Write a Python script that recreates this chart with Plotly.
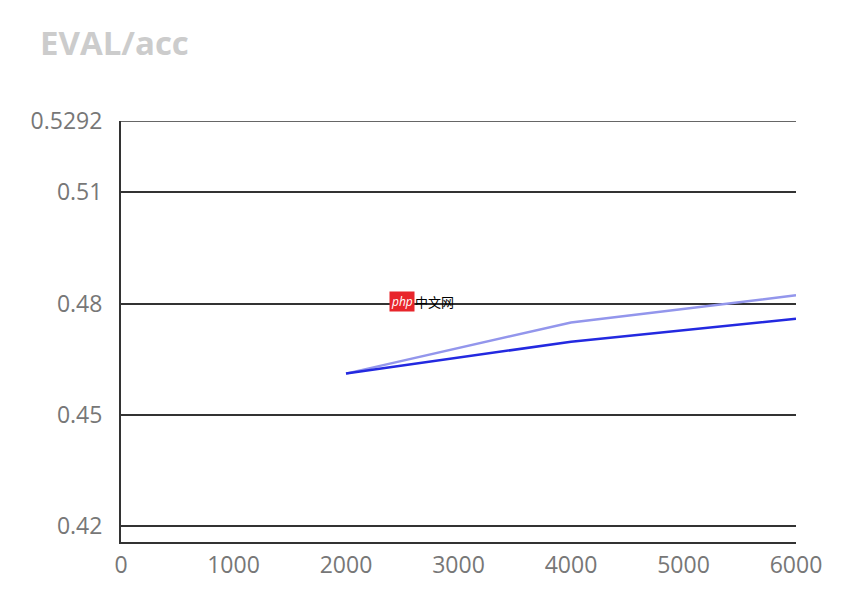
import plotly.graph_objects as go

steps = [2000, 4000, 6000]
acc_light = [0.4611, 0.4749, 0.4822]
acc_dark = [0.4611, 0.4697, 0.4759]
y_ticks = [0.42, 0.45, 0.48, 0.51, 0.5292]
y_tick_text = ["0.42", "0.45", "0.48", "0.51", "0.5292"]
x_ticks = [0, 1000, 2000, 3000, 4000, 5000, 6000]
y_min, y_max = 0.4157, 0.5292

fig = go.Figure()
fig.add_trace(go.Scatter(x=steps, y=acc_light, mode="lines",
                         line=dict(color="#9396ec", width=2.5), showlegend=False))
fig.add_trace(go.Scatter(x=steps, y=acc_dark, mode="lines",
                         line=dict(color="#2329e0", width=2.5), showlegend=False))

font_fam = "Open Sans, Segoe UI, sans-serif"
W, H = 840, 586
fig.update_layout(
    width=W, height=H,
    margin=dict(l=113, r=52, t=113, b=52),
    paper_bgcolor="white", plot_bgcolor="white",
    title=dict(text="<b>EVAL/acc</b>", x=32/W, xanchor="left", y=1-35/H, yanchor="middle",
               font=dict(family=font_fam, size=33, color="#cccccc")),
    xaxis=dict(range=[0, 6000], tickvals=x_ticks, showgrid=False, zeroline=False,
               showline=True, linecolor="#333333", linewidth=2, automargin=False,
               ticks="outside", ticklen=1, tickcolor="rgba(0,0,0,0)",
               tickfont=dict(family=font_fam, size=23, color="#777777")),
    yaxis=dict(range=[y_min, y_max], tickvals=y_ticks, ticktext=y_tick_text,
               showgrid=True, gridcolor="#333333", gridwidth=1.5, zeroline=False,
               showline=True, linecolor="#333333", linewidth=2, automargin=False,
               ticks="outside", ticklen=12, tickcolor="rgba(0,0,0,0)",
               tickfont=dict(family=font_fam, size=23, color="#777777")),
)
fig.add_shape(type="line", xref="paper", yref="y", x0=0, x1=1, y0=y_max, y1=y_max,
              line=dict(color="#333333", width=1.5))
fig.add_annotation(x=2500, y=0.4805, xref="x", yref="y", text="<i>php</i>", showarrow=False,
                   font=dict(family=font_fam, size=12, color="white"), bgcolor="#e8252b",
                   borderpad=1, xanchor="center", yanchor="middle")
fig.add_annotation(x=2790, y=0.4805, xref="x", yref="y", text="中文网", showarrow=False,
                   font=dict(family="Noto Sans CJK SC", size=13, color="black"),
                   xanchor="center", yanchor="middle")
fig.write_html("out.html")
